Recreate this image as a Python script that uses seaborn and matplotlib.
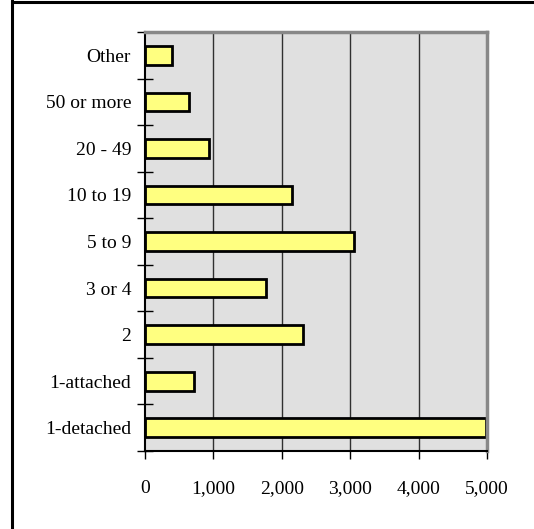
import matplotlib
matplotlib.use("Agg")
import matplotlib.pyplot as plt
from matplotlib.lines import Line2D
from matplotlib.ticker import FixedLocator, FuncFormatter
import seaborn as sns
import pandas as pd

# Housing units by number of units in structure (top to bottom)
categories = ["Other", "50 or more", "20 - 49", "10 to 19", "5 to 9",
              "3 or 4", "2", "1-attached", "1-detached"]
units = [400, 650, 940, 2145, 3055, 1770, 2310, 715, 4985]
x_ticks = [0, 1000, 2000, 3000, 4000, 5000]

df = pd.DataFrame({"type": categories, "units": units})

sns.set_theme(style="white")
plt.rcParams["font.family"] = ["Liberation Serif", "DejaVu Serif"]

fig = plt.figure(figsize=(5.34, 5.29), dpi=100)
ax = fig.add_axes([0.2715, 0.1474, 0.6404, 0.7921])
ax.set_facecolor("#e0e0e0")

sns.barplot(data=df, x="units", y="type", order=categories, orient="h",
            color="#ffff80", saturation=1, width=0.4,
            edgecolor="black", linewidth=2, ax=ax, zorder=3)

ax.set_xlim(0, 5000)
ax.set_ylim(len(categories) - 0.5, -0.5)
ax.set_xlabel("")
ax.set_ylabel("")

# vertical gridlines
ax.set_xticks(x_ticks)
ax.xaxis.set_major_formatter(FuncFormatter(lambda v, p: f"{int(v):,}"))
for v in x_ticks[1:-1]:
    ax.axvline(v, color="#303030", lw=1, zorder=1)

ax.tick_params(axis="x", which="major", direction="out", length=6, width=1,
               color="black", pad=15, labelsize=14, labelcolor="black",
               bottom=True)

# category labels centred, tick marks on the category boundaries
ax.tick_params(axis="y", which="major", length=0, pad=10, labelsize=14,
               labelcolor="black")
ax.yaxis.set_minor_locator(FixedLocator([i - 0.5 for i in range(len(categories) + 1)]))
ax.tick_params(axis="y", which="minor", direction="inout", length=12, width=1,
               color="black", left=True)

for side in ["left", "bottom"]:
    ax.spines[side].set_color("black")
    ax.spines[side].set_linewidth(1.5)
for side in ["top", "right"]:
    ax.spines[side].set_color("#888888")
    ax.spines[side].set_linewidth(2.5)
for s in ax.spines.values():
    s.set_visible(True)
    s.set_zorder(4)

# outer frame lines
W, H = 534, 529
fig.add_artist(Line2D([12 / W, 12 / W], [0, 1], color="black", lw=2.2,
                      transform=fig.transFigure))
fig.add_artist(Line2D([12 / W, 1], [1 - 1.5 / H, 1 - 1.5 / H], color="black",
                      lw=2.2, transform=fig.transFigure))

fig.savefig("out.png", dpi=100)
